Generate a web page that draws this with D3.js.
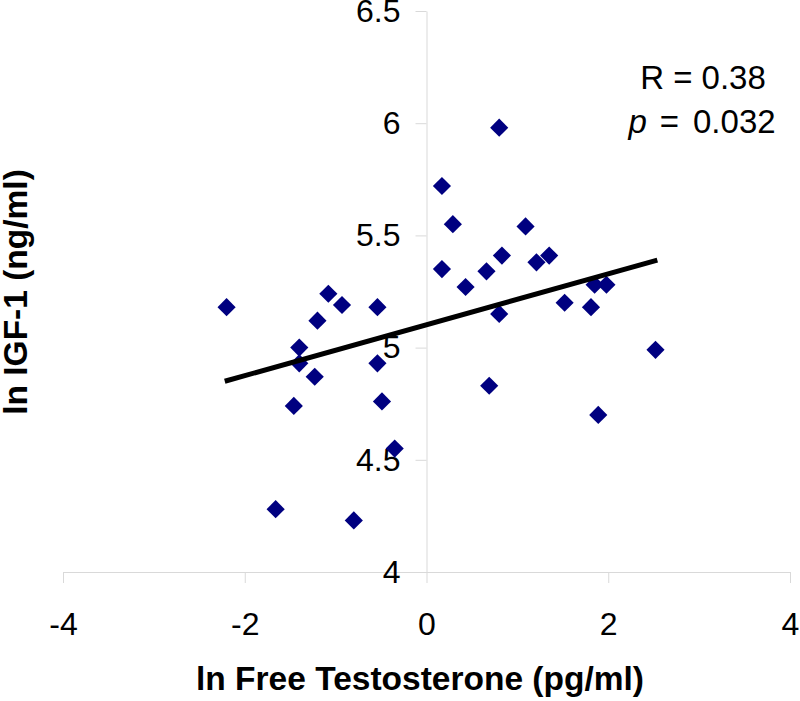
<!DOCTYPE html>
<html>
<head>
<meta charset="utf-8">
<script src="https://cdn.jsdelivr.net/npm/d3@7"></script>
<style>
  html, body { margin: 0; padding: 0; background: #fff; }
  svg { display: block; font-family: Arial, "Liberation Sans", sans-serif; }
</style>
</head>
<body>
<svg id="chart" width="800" height="701"></svg>
<script>
// Data
const freeT = [-2.20, -1.66, -1.46, -1.40, -1.40, -1.23, -1.20, -1.08, -0.93, -0.80,
               -0.54, -0.54, -0.49, -0.35, 0.17, 0.17, 0.29, 0.43, 0.66, 0.80,
               0.69, 0.80, 0.83, 1.09, 1.21, 1.35, 1.52, 1.81, 1.85, 1.98, 1.89, 2.52];
const igf1  = [5.18, 4.28, 4.74, 5.00, 4.93, 4.87, 5.12, 5.24, 5.19, 4.23,
               5.18, 4.93, 4.76, 4.55, 5.72, 5.35, 5.55, 5.27, 5.34, 5.98,
               4.83, 5.15, 5.41, 5.54, 5.38, 5.41, 5.20, 5.18, 5.28, 5.28, 4.70, 4.99];
const trendX = [-2.22, 2.54];
const trendY = [4.85, 5.39];
const xTicks = [-4, -2, 0, 2, 4];
const yTicks = [4, 4.5, 5, 5.5, 6, 6.5];
const xTitle = "ln Free Testosterone (pg/ml)";
const yTitle = "ln IGF-1 (ng/ml)";
const statR = "R = 0.38";
const statP = "0.032";

const svg = d3.select("#chart");
const x = d3.scaleLinear().domain([-4, 4]).range([63, 790]);
const y = d3.scaleLinear().domain([4, 6.5]).range([572, 11]);
const axisColor = "#d9d9d9";
const fontFam = "Arial, 'Liberation Sans', sans-serif";

// X axis
const gx = svg.append("g")
  .attr("transform", `translate(0,${y(4)})`)
  .call(d3.axisBottom(x).tickValues(xTicks).tickFormat(d => String(d))
        .tickSize(11).tickSizeOuter(0).tickPadding(29));
gx.select(".domain").attr("stroke", axisColor).attr("stroke-width", 1);
gx.selectAll(".tick line").attr("stroke", axisColor);
gx.selectAll(".tick text").attr("fill", "#000").style("font-size", "32px")
  .style("font-family", fontFam);

// Y axis
const gy = svg.append("g")
  .attr("transform", `translate(${x(0)},0)`)
  .call(d3.axisLeft(y).tickValues(yTicks).tickFormat(d => String(d))
        .tickSize(11).tickSizeOuter(0).tickPadding(15));
gy.select(".domain").attr("stroke", axisColor).attr("stroke-width", 1);
gy.selectAll(".tick line").attr("stroke", axisColor);
gy.selectAll(".tick text").attr("fill", "#000").style("font-size", "32px")
  .style("font-family", fontFam);

// Points
const data = freeT.map((v, i) => ({x: v, y: igf1[i]}));
const diamond = d3.symbol().type(d3.symbolSquare).size(165);
svg.append("g").selectAll("path")
  .data(data)
  .join("path")
  .attr("d", diamond)
  .attr("transform", d => `translate(${x(d.x)},${y(d.y)}) rotate(45)`)
  .attr("fill", "#000080");

// Trend line
const line = d3.line().x(d => x(d[0])).y(d => y(d[1]));
svg.append("path")
  .datum(trendX.map((v, i) => [v, trendY[i]]))
  .attr("d", line)
  .attr("stroke", "#000")
  .attr("stroke-width", 5)
  .attr("fill", "none");

// Annotation
const ann = svg.append("g").style("font-size", "33px").attr("text-anchor", "middle");
ann.append("text").attr("x", 703).attr("y", 89).text(statR);
const t2 = ann.append("text").attr("x", 702).attr("y", 133);
t2.append("tspan").style("font-style", "italic").text("p");
t2.append("tspan").attr("dx", 13).text("=");
t2.append("tspan").attr("dx", 14).text(statP);

// Axis titles
svg.append("text")
  .attr("x", 420).attr("y", 690)
  .attr("text-anchor", "middle")
  .style("font-size", "33.5px").style("font-weight", "bold")
  .text(xTitle);
svg.append("text")
  .attr("transform", "translate(27,292) rotate(-90)")
  .attr("text-anchor", "middle")
  .style("font-size", "33.5px").style("font-weight", "bold")
  .text(yTitle);
</script>
</body>
</html>
